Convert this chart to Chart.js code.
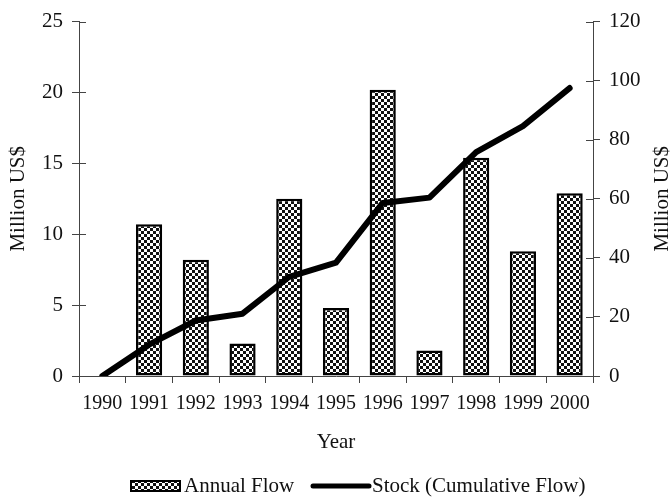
<!DOCTYPE html>
<html>
<head>
<meta charset="utf-8">
<script src="https://cdn.jsdelivr.net/npm/chart.js@4/dist/chart.umd.min.js"></script>
<style>
  html, body { margin: 0; padding: 0; background: #fff; }
  #wrap { width: 671px; height: 499px; }
</style>
</head>
<body>
<div id="wrap"><canvas id="chart"></canvas></div>
<script>
const years = ['1990', '1991', '1992', '1993', '1994', '1995', '1996', '1997', '1998', '1999', '2000'];
const annualFlow = [null, 10.7, 8.2, 2.3, 12.5, 4.8, 20.2, 1.8, 15.4, 8.8, 12.9];
const stock = [0, 10.6, 18.8, 21.1, 33.6, 38.4, 58.6, 60.4, 75.8, 84.6, 97.5];
const leftTicks = [0, 5, 10, 15, 20, 25];
const rightTicks = [0, 20, 40, 60, 80, 100, 120];

const serif = '"Liberation Serif", "Times New Roman", serif';
Chart.defaults.font.family = serif;
Chart.defaults.font.size = 21;
Chart.defaults.color = '#111';

// checkerboard fill for the bars
function checker() {
  const c = document.createElement('canvas');
  c.width = 6; c.height = 6;
  const g = c.getContext('2d');
  g.fillStyle = '#fff';
  g.fillRect(0, 0, 6, 6);
  g.fillStyle = '#111';
  g.fillRect(0, 0, 3, 3);
  g.fillRect(3, 3, 3, 3);
  return g.createPattern(c, 'repeat');
}
const pat = checker();

// y ticks cross the axis line, right title reads bottom-to-top, legend drawn by hand
const extras = {
  id: 'extras',
  afterDraw(chart) {
    const ctx = chart.ctx;
    const yl = chart.scales.y, yr = chart.scales.y2;
    const midY = (chart.chartArea.top + chart.chartArea.bottom) / 2;
    ctx.save();
    ctx.strokeStyle = '#444';
    ctx.lineWidth = 1;
    leftTicks.forEach(v => {
      const y = Math.round(yl.getPixelForValue(v)) + 0.5;
      ctx.beginPath(); ctx.moveTo(yl.right, y); ctx.lineTo(yl.right + 7, y); ctx.stroke();
    });
    rightTicks.forEach(v => {
      const y = Math.round(yr.getPixelForValue(v)) + 0.5;
      ctx.beginPath(); ctx.moveTo(yr.left - 7, y); ctx.lineTo(yr.left, y); ctx.stroke();
    });

    ctx.fillStyle = '#111';
    ctx.font = '21px ' + serif;
    ctx.textBaseline = 'middle';

    ctx.save();
    ctx.translate(662, midY);
    ctx.rotate(-Math.PI / 2);
    ctx.textAlign = 'center';
    ctx.fillText('Million US$', 0, 0);
    ctx.restore();

    // legend
    const ly = 486;
    ctx.textAlign = 'left';
    ctx.fillStyle = pat;
    ctx.fillRect(131, ly - 5, 49, 10);
    ctx.strokeStyle = '#000';
    ctx.lineWidth = 2;
    ctx.strokeRect(131, ly - 5, 49, 10);
    ctx.fillStyle = '#111';
    ctx.fillText(chart.data.datasets[1].label, 184, ly);
    ctx.beginPath();
    ctx.lineWidth = 5;
    ctx.lineCap = 'round';
    ctx.moveTo(313, ly); ctx.lineTo(369, ly);
    ctx.stroke();
    ctx.fillText(chart.data.datasets[0].label, 372, ly);
    ctx.restore();
  }
};

new Chart(document.getElementById('chart'), {
  type: 'bar',
  data: {
    labels: years,
    datasets: [
      {
        type: 'line',
        label: 'Stock (Cumulative Flow)',
        data: stock,
        yAxisID: 'y2',
        borderColor: '#000',
        backgroundColor: '#000',
        borderWidth: 6,
        borderJoinStyle: 'round',
        borderCapStyle: 'round',
        pointRadius: 0,
        tension: 0,
        order: 0
      },
      {
        label: 'Annual Flow',
        data: annualFlow,
        yAxisID: 'y',
        backgroundColor: pat,
        borderColor: '#000',
        borderWidth: 2.5,
        borderSkipped: false,
        categoryPercentage: 1,
        barPercentage: 0.56,
        order: 1
      }
    ]
  },
  options: {
    responsive: true,
    maintainAspectRatio: false,
    animation: false,
    layout: { padding: { top: 20, left: 6, right: 0, bottom: 43 } },
    plugins: {
      tooltip: { enabled: false },
      legend: { display: false }
    },
    scales: {
      x: {
        offset: true,
        grid: { offset: true, drawOnChartArea: false, tickLength: 7, color: '#444' },
        border: { color: '#444' },
        ticks: { padding: 9, maxRotation: 0, autoSkip: false, font: { size: 20 } },
        title: { display: true, text: 'Year', padding: { top: 10, bottom: 1 } },
        afterFit: s => { s.height = 80; }
      },
      y: {
        position: 'left',
        min: 0, max: 25,
        afterBuildTicks: s => { s.ticks = leftTicks.map(v => ({ value: v })); },
        grid: { drawOnChartArea: false, tickLength: 7, color: '#444' },
        border: { color: '#444' },
        ticks: { padding: 9 },
        title: { display: true, text: 'Million US$', padding: 0 },
        afterFit: s => { s.width = 73; }
      },
      y2: {
        position: 'right',
        min: 0, max: 120,
        afterBuildTicks: s => { s.ticks = rightTicks.map(v => ({ value: v })); },
        grid: { drawOnChartArea: false, tickLength: 7, color: '#444' },
        border: { color: '#444' },
        ticks: { padding: 9 },
        afterFit: s => { s.width = 78; }
      }
    }
  },
  plugins: [extras]
});
</script>
</body>
</html>
